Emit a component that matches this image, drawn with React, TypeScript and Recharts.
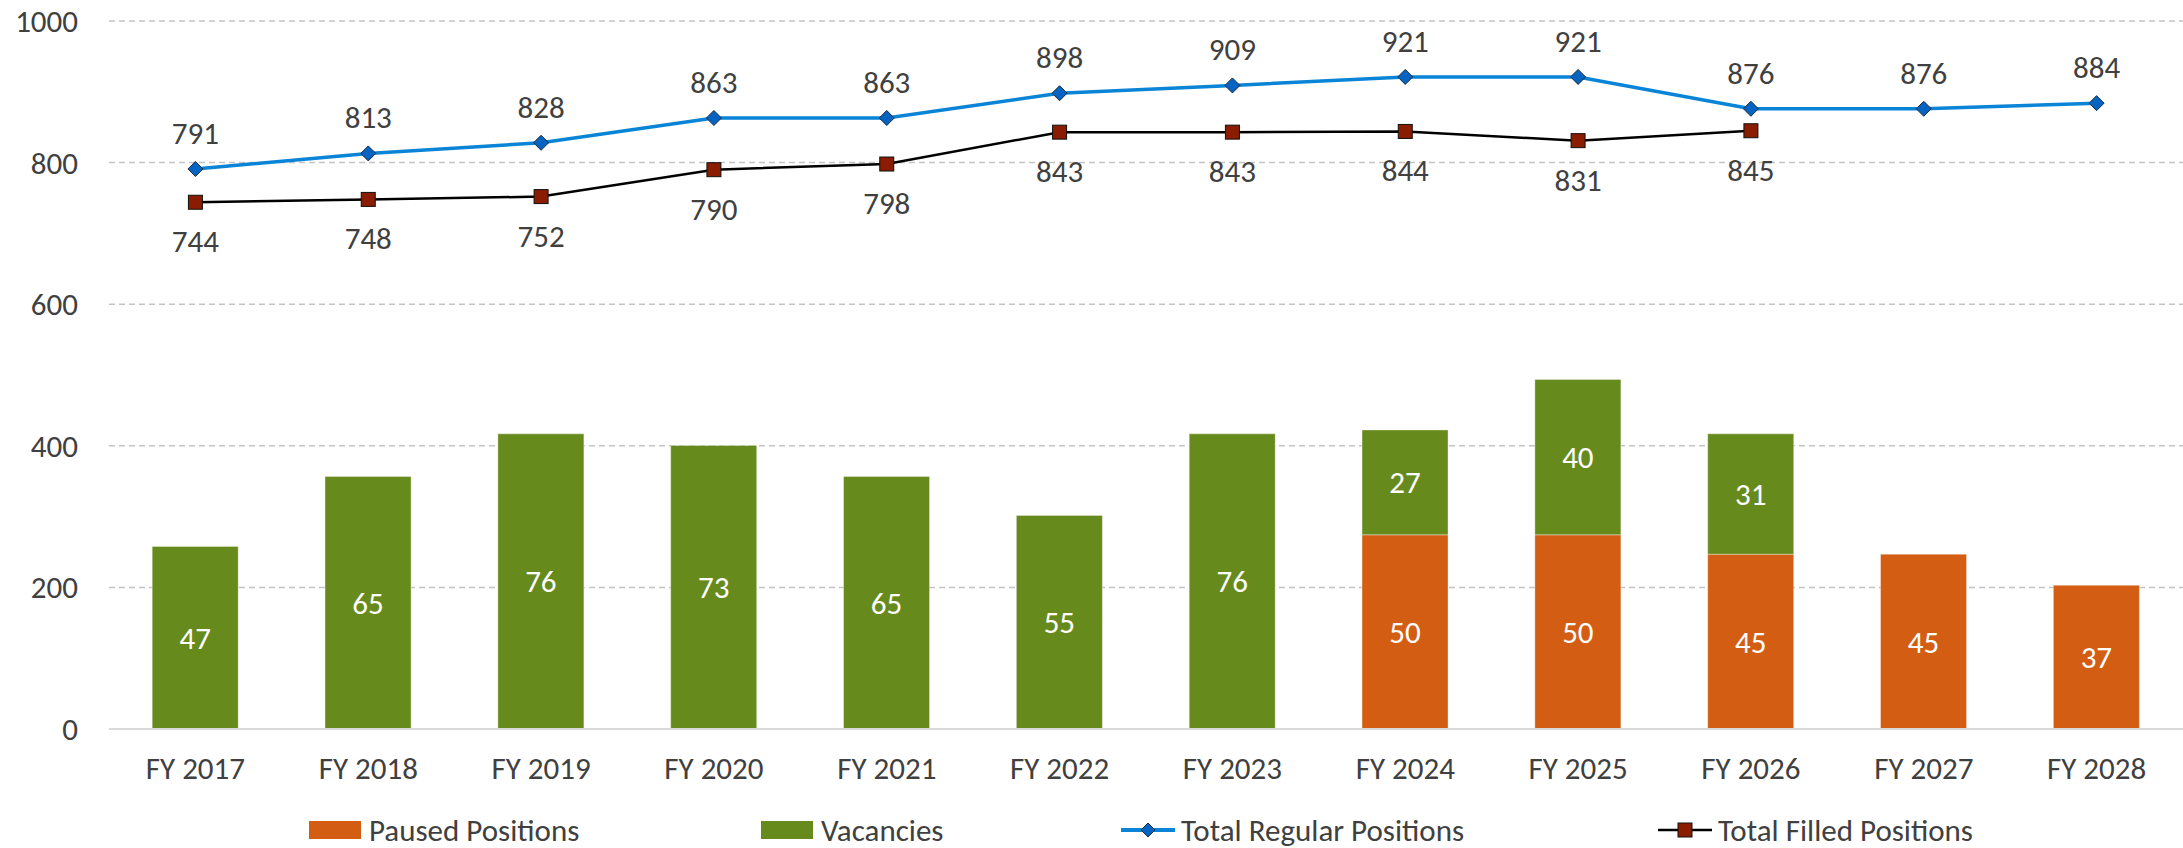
import React from 'react';
import { ComposedChart, Bar, Line, XAxis, YAxis, CartesianGrid, Legend, LabelList } from 'recharts';

const years = ['FY 2017', 'FY 2018', 'FY 2019', 'FY 2020', 'FY 2021', 'FY 2022', 'FY 2023', 'FY 2024', 'FY 2025', 'FY 2026', 'FY 2027', 'FY 2028'];
const pausedPositions: (number | null)[] = [null, null, null, null, null, null, null, 50, 50, 45, 45, 37];
const vacancies: (number | null)[] = [47, 65, 76, 73, 65, 55, 76, 27, 40, 31, null, null];
const totalRegularPositions: (number | null)[] = [791, 813, 828, 863, 863, 898, 909, 921, 921, 876, 876, 884];
const totalFilledPositions: (number | null)[] = [744, 748, 752, 790, 798, 843, 843, 844, 831, 845, null, null];
const leftTicks = [0, 200, 400, 600, 800, 1000];

const data = years.map((year, i) => ({
  year,
  paused: pausedPositions[i],
  vacancies: vacancies[i],
  regular: totalRegularPositions[i],
  filled: totalFilledPositions[i],
}));

const FONT = 'Carlito, Calibri, Lato, sans-serif';
const FS = 31;
const TEXT = '#404040';
const ORANGE = '#D35D13';
const GREEN = '#678A1D';
const BLUE = '#0A84D7';
const DIAMOND = '#0563C1';
const SQUARE = '#8A1C00';

const Diamond = (props: any) => {
  const { cx, cy, value } = props;
  if (cx == null || cy == null || value == null) return <g />;
  const r = 7.5;
  return <path d={`M${cx},${cy - r}L${cx + r},${cy}L${cx},${cy + r}L${cx - r},${cy}Z`} fill={DIAMOND} stroke="#1b2a3a" strokeWidth={1} />;
};

const Square = (props: any) => {
  const { cx, cy, value } = props;
  if (cx == null || cy == null || value == null) return <g />;
  const s = 7;
  return <rect x={cx - s} y={cy - s} width={2 * s} height={2 * s} fill={SQUARE} stroke="#111" strokeWidth={1} />;
};

const lineLabel = (dy: number) => (props: any) => {
  const { x, y, value } = props;
  if (value == null || x == null || y == null) return <g />;
  return (
    <text x={x} y={y + dy} textAnchor="middle" dominantBaseline="central" fill={TEXT} fontSize={FS} fontFamily={FONT}>
      {value}
    </text>
  );
};

const barLabel = (props: any) => {
  const { x, y, width, height, value } = props;
  if (value == null || !height) return <g />;
  return (
    <text x={x + width / 2} y={y + height / 2} textAnchor="middle" dominantBaseline="central" fill="#ffffff" fontSize={FS} fontFamily={FONT}>
      {value}
    </text>
  );
};

const legendItems = [
  { name: 'Paused Positions', type: 'bar', color: ORANGE, left: 309 },
  { name: 'Vacancies', type: 'bar', color: GREEN, left: 761 },
  { name: 'Total Regular Positions', type: 'diamond', color: BLUE, left: 1121 },
  { name: 'Total Filled Positions', type: 'square', color: '#000000', left: 1658 },
];

const renderLegend = () => (
  <div style={{ position: 'relative', height: 36, width: 2183, fontFamily: FONT, fontSize: FS, color: TEXT }}>
    {legendItems.map((it) => (
      <div key={it.name} style={{ position: 'absolute', left: it.left, top: 0, height: 36, display: 'flex', alignItems: 'center', whiteSpace: 'nowrap' }}>
        <svg width={54} height={20} style={{ marginRight: 6 }}>
          {it.type === 'bar' && <rect x={0} y={1} width={52} height={18} fill={it.color} />}
          {it.type === 'diamond' && (
            <g>
              <line x1={0} y1={10} x2={54} y2={10} stroke={BLUE} strokeWidth={4} strokeLinecap="round" />
              <path d="M27,3L34,10L27,17L20,10Z" fill={DIAMOND} stroke="#1b2a3a" strokeWidth={1} />
            </g>
          )}
          {it.type === 'square' && (
            <g>
              <line x1={0} y1={10} x2={54} y2={10} stroke="#000" strokeWidth={2.5} />
              <rect x={20} y={3} width={14} height={14} fill={SQUARE} stroke="#111" strokeWidth={1} />
            </g>
          )}
        </svg>
        <span>{it.name}</span>
      </div>
    ))}
  </div>
);

export default function App() {
  return (
    <div style={{ position: 'absolute', left: 0, top: 0, width: 2183, height: 848, background: '#fff', fontFamily: FONT }}>
      <ComposedChart
        width={2183}
        height={848}
        data={data}
        margin={{ top: 21, right: 0, left: 0, bottom: 0 }}
        barCategoryGap="25%"
      >
        <CartesianGrid yAxisId="left" vertical={false} stroke="#C4C4C4" strokeDasharray="6 4" strokeWidth={1.5} />
        <XAxis
          dataKey="year"
          height={83}
          tickLine={false}
          axisLine={{ stroke: '#D9D9D9', strokeWidth: 2 }}
          tickMargin={22}
          tick={{ fill: TEXT, fontSize: FS, fontFamily: FONT }}
          interval={0}
        />
        <YAxis
          yAxisId="left"
          width={109}
          domain={[0, 1000]}
          ticks={leftTicks}
          tickLine={false}
          axisLine={false}
          tickMargin={25}
          tick={{ fill: TEXT, fontSize: FS, fontFamily: FONT }}
          interval={0}
        />
        <YAxis yAxisId="right" orientation="right" hide domain={[0, 182.3]} allowDataOverflow />
        <Legend verticalAlign="bottom" content={renderLegend} />
        <Bar yAxisId="right" dataKey="paused" name="Paused Positions" stackId="a" fill={ORANGE} stroke="#ffffff" strokeOpacity={0.35} strokeWidth={1} isAnimationActive={false}>
          <LabelList dataKey="paused" content={barLabel} />
        </Bar>
        <Bar yAxisId="right" dataKey="vacancies" name="Vacancies" stackId="a" fill={GREEN} stroke="#ffffff" strokeOpacity={0.35} strokeWidth={1} isAnimationActive={false}>
          <LabelList dataKey="vacancies" content={barLabel} />
        </Bar>
        <Line yAxisId="left" dataKey="regular" name="Total Regular Positions" stroke={BLUE} strokeWidth={3.5} dot={<Diamond />} activeDot={false} isAnimationActive={false}>
          <LabelList dataKey="regular" content={lineLabel(-36)} />
        </Line>
        <Line yAxisId="left" dataKey="filled" name="Total Filled Positions" stroke="#000000" strokeWidth={2.5} dot={<Square />} activeDot={false} isAnimationActive={false}>
          <LabelList dataKey="filled" content={lineLabel(39)} />
        </Line>
      </ComposedChart>
    </div>
  );
}
